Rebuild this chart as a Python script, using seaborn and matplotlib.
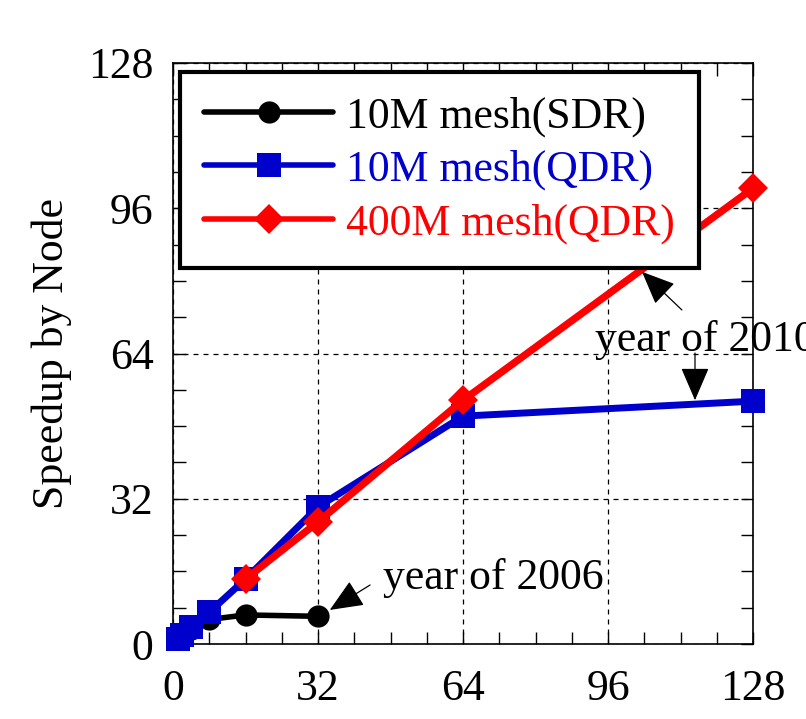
import matplotlib
matplotlib.use("Agg")
import matplotlib.pyplot as plt
import seaborn as sns
import pandas as pd
from matplotlib.ticker import MultipleLocator

# ---- data ----
sdr_nodes = [1, 2, 4, 8, 16, 32]
sdr_speedup = [1, 1.9, 3.4, 5.4, 6.4, 6.1]

qdr10_nodes = [1, 2, 4, 8, 16, 32, 64, 128]
qdr10_speedup = [1, 2, 3.8, 7.0, 14.3, 30.2, 50.2, 53.5]

qdr400_nodes = [16, 32, 64, 128]
qdr400_speedup = [14.3, 26.9, 53.7, 100.4]

labels = ["10M mesh(SDR)", "10M mesh(QDR)", "400M mesh(QDR)"]
colors = ["#000000", "#0000CC", "#FF0000"]
markers = ["o", "s", "D"]
msizes = [16, 17.5, 15.5]
lwidths = [4.0, 5.0, 5.3]
ticks = [0, 32, 64, 96, 128]

sns.set_theme(style="white")
plt.rcParams["font.family"] = ["Liberation Serif", "DejaVu Serif"]
FS = 31.5

fig = plt.figure(figsize=(8.06, 7.19), dpi=100)
ax = fig.add_axes([173 / 806, 1 - 644 / 719, 580 / 806, 581 / 719])

series = [(sdr_nodes, sdr_speedup), (qdr10_nodes, qdr10_speedup), (qdr400_nodes, qdr400_speedup)]
for (xs, ys), c, m, ms, lw in zip(series, colors, markers, msizes, lwidths):
    df = pd.DataFrame({"Nodes": xs, "Speedup": ys})
    sns.lineplot(data=df, x="Nodes", y="Speedup", ax=ax, color=c, marker=m,
                 markersize=ms, markeredgecolor=c, markeredgewidth=0,
                 linewidth=lw, legend=False, clip_on=False, zorder=3)

lines = ax.get_lines()[:3]
for ln, lab in zip(lines, labels):
    ln.set_label(lab)

ax.set_xlim(0, 128)
ax.set_ylim(0, 128)
ax.set_xticks(ticks)
ax.set_yticks(ticks)
ax.set_xticklabels([str(t) for t in ticks])
ax.set_yticklabels([str(t) for t in ticks])
ax.xaxis.set_minor_locator(MultipleLocator(8))
ax.yaxis.set_minor_locator(MultipleLocator(8))
ax.tick_params(which="both", direction="in", top=True, right=True, bottom=True, left=True,
               length=9, width=1, color="black")
ax.tick_params(which="major", labelsize=FS, labelcolor="black")
ax.tick_params(axis="x", which="major", pad=18)
ax.tick_params(axis="y", which="major", pad=14)
ax.grid(True, which="major", color="black", linestyle=(0, (4, 4)), linewidth=0.9)
for s in ax.spines.values():
    s.set_color("black")
    s.set_linewidth(1.2)
    s.set_visible(True)

ax.set_xlabel("")
ax.set_ylabel("Speedup by Node", fontsize=FS, color="black", labelpad=12)

leg = ax.legend(handles=lines, labels=labels, loc="upper left",
                bbox_to_anchor=((180 - 173) / 580, (644 - 72) / 581),
                borderaxespad=0, fontsize=FS, frameon=True, fancybox=False,
                handlelength=2.95, handletextpad=0.3, labelspacing=0.3,
                borderpad=0.55, framealpha=1)
leg.get_frame().set_edgecolor("black")
leg.get_frame().set_linewidth(3)
for t, c in zip(leg.get_texts(), colors):
    t.set_color(c)
for h in leg.legend_handles:
    h.set_linewidth(4.0)
leg.set_zorder(5)

aprops = dict(arrowstyle="-|>,head_length=0.7,head_width=0.3", color="black",
              linewidth=0.9, mutation_scale=30, shrinkA=0, shrinkB=0)
ax.annotate("", xy=(34.6, 7.5), xytext=(43.5, 13.0), arrowprops=aprops, zorder=6)
ax.text(46.3, 14.5, "year of 2006", fontsize=FS, va="center", ha="left", color="black")

ax.annotate("", xy=(103.5, 82.0), xytext=(112.3, 73.6), arrowprops=aprops,
            annotation_clip=False, zorder=6)
ax.annotate("", xy=(115.2, 53.7), xytext=(115.2, 64.1), arrowprops=aprops,
            annotation_clip=False, zorder=6)
ax.text(93.1, 67.0, "year of 2010", fontsize=FS, va="center", ha="left",
        color="black", clip_on=False)

fig.savefig("out.png", dpi=100)
